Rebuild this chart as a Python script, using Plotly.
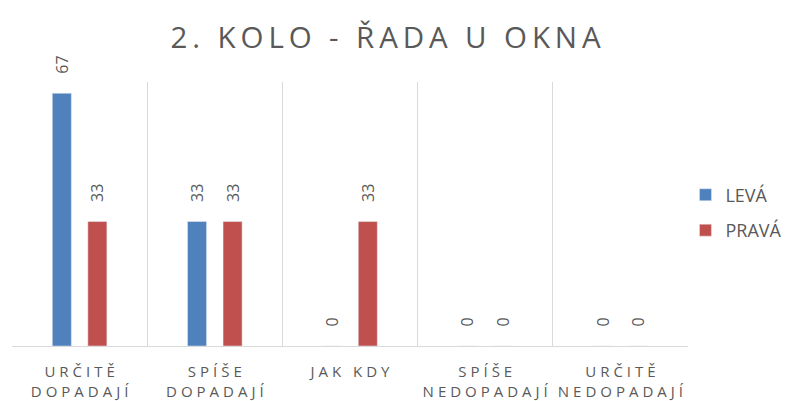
import plotly.graph_objects as go

# Survey categories and responses per row side (percent)
categories = ["URČITĚ DOPADAJÍ", "SPÍŠE DOPADAJÍ", "JAK KDY", "SPÍŠE NEDOPADAJÍ", "URČITĚ NEDOPADAJÍ"]
leva = [67, 33, 0, 0, 0]
prava = [33, 33, 33, 0, 0]

THIN = "\u2009"
TRACK = "\u2009\u200a"
NBSP = "\u00a0"


def spaced(s, gap):
    return gap.join(list(s))


def tick_label(s):
    """Widen letter spacing; two-word labels are split onto two lines."""
    if s == "JAK KDY":
        return spaced(s, TRACK)
    return "<br>".join(spaced(w, TRACK) for w in s.split(" "))


def bar_label(v):
    # leading non-breaking spaces keep the rotated value clear of the bar end
    return NBSP * 4 + str(v)


tick_text = [tick_label(c) for c in categories]
grey = "#595959"

fig = go.Figure()
for name, vals, color in (("LEVÁ", leva, "#4F81BD"), ("PRAVÁ", prava, "#C0504D")):
    fig.add_trace(go.Bar(
        name=name, x=categories, y=vals, marker_color=color, legendgroup=name,
        text=[bar_label(v) for v in vals], textposition="outside", textangle=-90,
        textfont=dict(size=16, color=grey), cliponaxis=False, constraintext="none",
    ))

fig.update_layout(
    width=787, height=401,
    margin=dict(l=12, r=99, t=82, b=55, autoexpand=False),
    paper_bgcolor="white", plot_bgcolor="white",
    font=dict(family="Open Sans, Lato, sans-serif", color=grey),
    title=dict(
        text=spaced("2. KOLO - ŘADA U OKNA", THIN),
        x=0.49, xref="container", xanchor="center",
        y=0.907, yref="container", yanchor="middle",
        font=dict(size=29.5, color=grey),
    ),
    barmode="group", bargap=0.474, bargroupgap=0.465,
    showlegend=True,
    legend=dict(
        xref="container", yref="container",
        x=0.871, xanchor="left", y=0.47, yanchor="middle",
        font=dict(size=18, color=grey), itemwidth=30,
        traceorder="grouped", tracegroupgap=9,
    ),
)
fig.update_xaxes(
    tickmode="array", tickvals=categories, ticktext=tick_text, tickangle=0,
    tickson="boundaries", ticks="", showgrid=True, gridcolor="#d9d9d9", gridwidth=1,
    showline=True, linecolor="#d9d9d9", linewidth=1,
    tickfont=dict(size=15, color=grey), ticklabelstandoff=12,
)
fig.update_yaxes(range=[0, 70], visible=False, showgrid=False, zeroline=False)

fig.write_html("out.html")
